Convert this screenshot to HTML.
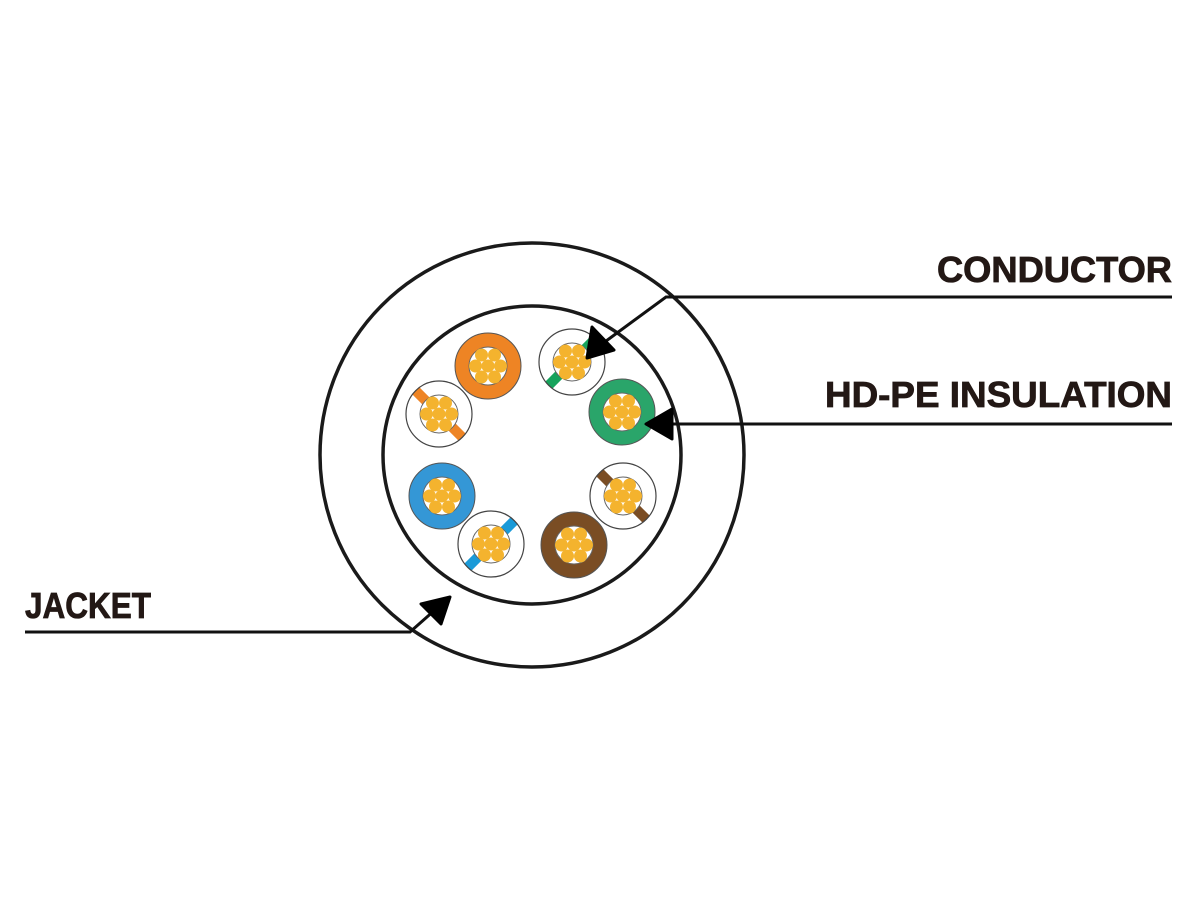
<!DOCTYPE html>
<html><head><meta charset="utf-8"><style>html,body{margin:0;padding:0;background:#fff}svg{display:block}</style></head>
<body>
<svg width="1200" height="900" viewBox="0 0 1200 900" xmlns="http://www.w3.org/2000/svg">
<defs>
<g id="core">
<circle r="19" fill="#fff" stroke="#666" stroke-width="1"/>
<circle cx="0" cy="0" r="6.5" fill="#f4b32e"/>
<circle cx="-6.5" cy="-11" r="6.5" fill="#f4b32e"/>
<circle cx="6.5" cy="-11" r="6.5" fill="#f4b32e"/>
<circle cx="-12.5" cy="0" r="6.5" fill="#f4b32e"/>
<circle cx="12.5" cy="0" r="6.5" fill="#f4b32e"/>
<circle cx="-6.5" cy="11" r="6.5" fill="#f4b32e"/>
<circle cx="6.5" cy="11" r="6.5" fill="#f4b32e"/>
</g>
<clipPath id="c33"><circle r="33"/></clipPath>
</defs>
<circle cx="532" cy="455" r="212" fill="none" stroke="#1a1a1a" stroke-width="3.5"/>
<circle cx="532" cy="455" r="149" fill="none" stroke="#1a1a1a" stroke-width="3.5"/>

<g transform="translate(488,366)"><circle r="33" fill="#ee8424" stroke="#555" stroke-width="1"/><use href="#core"/></g>
<g transform="translate(622,412)"><circle r="33" fill="#2aa56a" stroke="#555" stroke-width="1"/><use href="#core"/></g>
<g transform="translate(442,496)"><circle r="33" fill="#3497d6" stroke="#555" stroke-width="1"/><use href="#core"/></g>
<g transform="translate(574,545)"><circle r="33" fill="#7a4d24" stroke="#555" stroke-width="1"/><use href="#core"/></g>

<g transform="translate(439,414)"><circle r="33" fill="#fff"/><g clip-path="url(#c33)"><rect x="-40" y="-5" width="80" height="10" fill="#ee8424" transform="rotate(45)"/></g><circle r="33" fill="none" stroke="#444" stroke-width="1.2"/><use href="#core"/></g>
<g transform="translate(572,362)"><circle r="33" fill="#fff"/><g clip-path="url(#c33)"><rect x="-40" y="-5" width="80" height="10" fill="#17a35c" transform="rotate(-45)"/></g><circle r="33" fill="none" stroke="#444" stroke-width="1.2"/><use href="#core"/></g>
<g transform="translate(623,496)"><circle r="33" fill="#fff"/><g clip-path="url(#c33)"><rect x="-40" y="-5" width="80" height="10" fill="#7a4d24" transform="rotate(45)"/></g><circle r="33" fill="none" stroke="#444" stroke-width="1.2"/><use href="#core"/></g>
<g transform="translate(491,544)"><circle r="33" fill="#fff"/><g clip-path="url(#c33)"><rect x="-40" y="-5" width="80" height="10" fill="#1a9ad8" transform="rotate(-45)"/></g><circle r="33" fill="none" stroke="#444" stroke-width="1.2"/><use href="#core"/></g>

<g stroke="#111" stroke-width="3" fill="none">
<polyline points="1172,297 666,297 602,344"/>
<line x1="1172" y1="424" x2="668" y2="424"/>
<polyline points="25,632 410,632 436,609"/>
</g>
<g fill="#000" stroke="#000" stroke-width="3" stroke-linejoin="round">
<polygon points="587,358 592,327 614,350"/>
<polygon points="646,424 672,409 672,439"/>
<polygon points="450,597 421,604 441,624"/>
</g>

<g font-family="Liberation Sans, sans-serif" font-weight="bold" fill="#231815" stroke="#231815" stroke-width="0.8" font-size="36">
<text x="937" y="282" textLength="235" lengthAdjust="spacingAndGlyphs">CONDUCTOR</text>
<text x="825" y="407" textLength="347" lengthAdjust="spacingAndGlyphs">HD-PE INSULATION</text>
<text x="25" y="618" textLength="126" lengthAdjust="spacingAndGlyphs">JACKET</text>
</g>
</svg>
</body></html>
